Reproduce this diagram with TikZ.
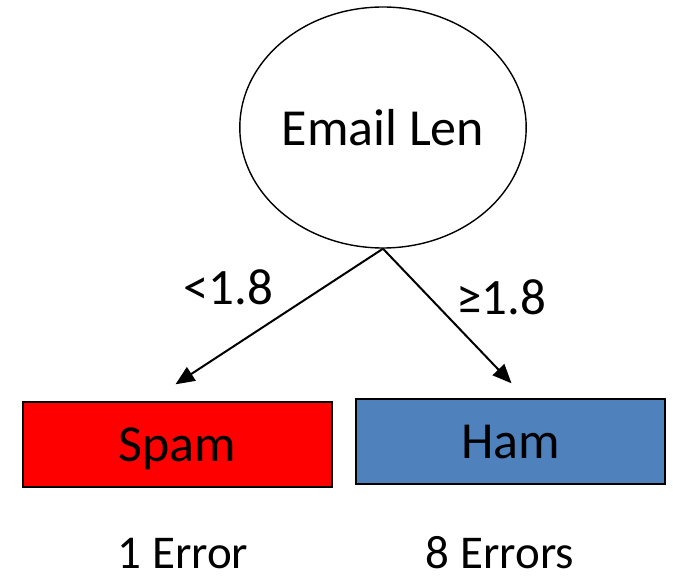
\documentclass[tikz,border=0pt]{standalone}
\usepackage{fontspec}
\setmainfont{Carlito}
\usetikzlibrary{shapes.geometric,arrows.meta}

\begin{document}
\begin{tikzpicture}[x=1pt,y=-1pt,
  big/.style={font=\fontsize{52}{60}\selectfont},
  mid/.style={font=\fontsize{47}{56}\selectfont,inner sep=0pt},
  cond/.style={font=\fontsize{51}{60}\selectfont,inner sep=0pt},
  leaf/.style={draw,line width=1.4pt,minimum width=309pt,minimum height=85pt,inner sep=0pt,text depth=0pt,big},
  branch/.style={line width=2pt,-{Triangle[length=19pt,width=16pt]}}]
\useasboundingbox (0,0) rectangle (673,580);
\definecolor{hamblue}{HTML}{4F81BD}
\node[ellipse,draw,line width=1.4pt,minimum width=258pt,minimum height=241pt,inner sep=0pt,big] (len) at (383,127.5) {Email Len};
\node[leaf,fill=red] (spam) at (177.5,444.5) {Spam};
\node[leaf,fill=hamblue] (ham) at (510.5,441.5) {Ham};
\node[cond,anchor=base] (lt) at (228,305) {<1.8};
\node[cond,anchor=base] (ge) at (501,315) {≥1.8};
\node[mid,anchor=base] (err1) at (183,568) {1 Error};
\node[mid,anchor=base] (err8) at (500,568) {8 Errors};
\draw[branch] (len.south) -- ([xshift=-2pt,yshift=17pt]spam.north);
\draw[branch] (len.south) -- ([xshift=1pt,yshift=15pt]ham.north);
\end{tikzpicture}
\end{document}
